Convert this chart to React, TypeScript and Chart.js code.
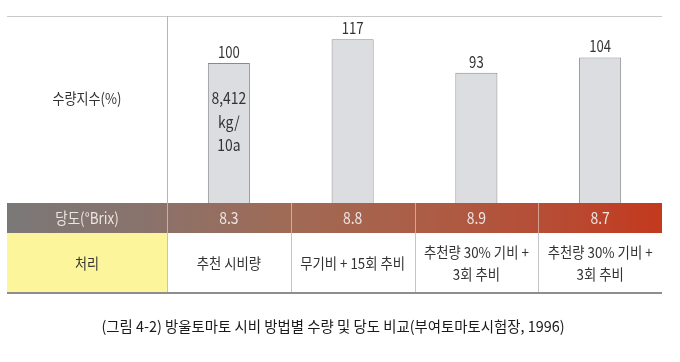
import React, { useEffect, useRef } from "react";
import { Chart, registerables } from "chart.js";

Chart.register(...registerables);

const categories = ["추천 시비량", "무기비 + 15회 추비", "추천량 30% 기비 + 3회 추비", "추천량 30% 기비 + 3회 추비"];
const treatmentLines: string[][] = [
  ["추천 시비량"],
  ["무기비 + 15회 추비"],
  ["추천량 30% 기비 +", "3회 추비"],
  ["추천량 30% 기비 +", "3회 추비"],
];
const yieldIndex = [100, 117, 93, 104];
const brix = [8.3, 8.8, 8.9, 8.7];
const baseYieldNote = ["8,412", "kg/", "10a"];
const yLabel = "수량지수(%)";
const brixLabel = "당도(°Brix)";
const treatLabel = "처리";
const caption = "(그림 4-2) 방울토마토 시비 방법별 수량 및 당도 비교(부여토마토시험장, 1996)";

const FONT = '"Noto Sans CJK KR", "Noto Sans", sans-serif';

function drawText(
  ctx: CanvasRenderingContext2D,
  text: string,
  x: number,
  y: number,
  size: number,
  color: string,
  sx = 0.87
) {
  ctx.save();
  ctx.font = `${size}px ${FONT}`;
  ctx.fillStyle = color;
  ctx.textAlign = "center";
  ctx.textBaseline = "middle";
  ctx.translate(x, y);
  ctx.scale(sx, 1);
  ctx.fillText(text, 0, 0);
  ctx.restore();
}

const tablePlugin = {
  id: "tablePlugin",
  beforeDatasetsDraw(chart: any) {
    const { ctx, chartArea } = chart;
    const L = 7;
    const CL = chartArea.left;
    const R = chartArea.right;
    const topY = 16;
    const bandTop = chartArea.bottom;
    ctx.save();
    ctx.strokeStyle = "#c9c9c9";
    ctx.lineWidth = 1;
    ctx.beginPath();
    ctx.moveTo(L, topY + 0.5);
    ctx.lineTo(R, topY + 0.5);
    ctx.stroke();
    ctx.strokeStyle = "#b5b5b5";
    ctx.beginPath();
    ctx.moveTo(CL + 0.5, topY);
    ctx.lineTo(CL + 0.5, bandTop);
    ctx.stroke();
    ctx.restore();
  },
  afterDatasetsDraw(chart: any) {
    const { ctx, chartArea, scales } = chart;
    const xs = scales.x;
    const L = 7;
    const CL = chartArea.left;
    const R = chartArea.right;
    const bandTop = chartArea.bottom;
    const bandBot = bandTop + 30;
    const rowBot = bandBot + 60;
    const n = categories.length;
    const colW = (R - CL) / n;
    const bounds: number[] = [];
    for (let i = 0; i <= n; i++) bounds.push(CL + colW * i);

    ctx.save();
    const g = ctx.createLinearGradient(L, 0, R, 0);
    g.addColorStop(0, "#7a7877");
    g.addColorStop(0.22, "#8a726b");
    g.addColorStop(0.43, "#a06a55");
    g.addColorStop(0.65, "#ad5c45");
    g.addColorStop(0.85, "#b84a32");
    g.addColorStop(1, "#c3391d");
    ctx.fillStyle = g;
    ctx.fillRect(L, bandTop, R - L, bandBot - bandTop);
    ctx.strokeStyle = "rgba(255,255,255,0.45)";
    ctx.lineWidth = 1;
    for (let i = 0; i < n; i++) {
      const x = Math.round(bounds[i]) + 0.5;
      ctx.beginPath();
      ctx.moveTo(x, bandTop);
      ctx.lineTo(x, bandBot);
      ctx.stroke();
    }
    ctx.fillStyle = "#fdf59b";
    ctx.fillRect(L, bandBot, CL - L, rowBot - bandBot);
    ctx.strokeStyle = "#c4c4c4";
    for (let i = 0; i < n; i++) {
      const x = Math.round(bounds[i]) + 0.5;
      ctx.beginPath();
      ctx.moveTo(x, bandBot);
      ctx.lineTo(x, rowBot);
      ctx.stroke();
    }
    ctx.strokeStyle = "#8e8e8e";
    ctx.lineWidth = 2;
    ctx.beginPath();
    ctx.moveTo(L, rowBot);
    ctx.lineTo(R, rowBot);
    ctx.stroke();
    ctx.restore();

    const leftCx = (L + CL) / 2;
    drawText(ctx, yLabel, leftCx, 98, 15, "#333333");
    drawText(ctx, brixLabel, leftCx, (bandTop + bandBot) / 2, 15.5, "#ece5e0");
    drawText(ctx, treatLabel, leftCx, (bandBot + rowBot) / 2, 15, "#333333");

    const meta = chart.getDatasetMeta(0);
    for (let i = 0; i < n; i++) {
      const cx = xs.getPixelForValue(i);
      const bar = meta.data[i];
      drawText(ctx, String(yieldIndex[i]), cx, bar.y - 11, 16, "#333333", 0.82);
      drawText(ctx, brix[i].toFixed(1), cx, (bandTop + bandBot) / 2, 16, "#ece5e0");
      const lines = treatmentLines[i];
      const mid = (bandBot + rowBot) / 2;
      const lh = 22;
      lines.forEach((t, k) => {
        drawText(ctx, t, cx, mid + (k - (lines.length - 1) / 2) * lh, 15, "#333333", 0.89);
      });
    }
    const b0 = meta.data[0];
    baseYieldNote.forEach((t, k) => {
      drawText(ctx, t, b0.x, 98 + k * 23.5, 16, "#333333");
    });
    drawText(ctx, caption, 333, 326, 15, "#1a1a1a", 0.96);
  },
};

export default function App() {
  const ref = useRef<HTMLCanvasElement | null>(null);
  useEffect(() => {
    if (!ref.current) return;
    const chart = new Chart(ref.current, {
      type: "bar",
      data: {
        labels: categories,
        datasets: [
          {
            data: yieldIndex,
            backgroundColor: "#dcdde0",
            borderColor: "#8a8a8a",
            borderWidth: { top: 1, left: 1, right: 1, bottom: 0 },
            borderSkipped: "bottom",
            barPercentage: 0.34,
            categoryPercentage: 1,
          },
        ],
      },
      options: {
        responsive: false,
        animation: false,
        devicePixelRatio: 1,
        layout: { padding: { left: 167, right: 18, top: 21, bottom: 159 } },
        plugins: { legend: { display: false }, tooltip: { enabled: false } },
        scales: {
          x: { display: false },
          y: { display: false, min: 0, max: 130 },
        },
      },
      plugins: [tablePlugin],
    });
    return () => chart.destroy();
  }, []);
  return (
    <div style={{ position: "absolute", left: 0, top: 0, width: 680, height: 362, background: "#ffffff" }}>
      <canvas ref={ref} width={680} height={362} />
    </div>
  );
}
